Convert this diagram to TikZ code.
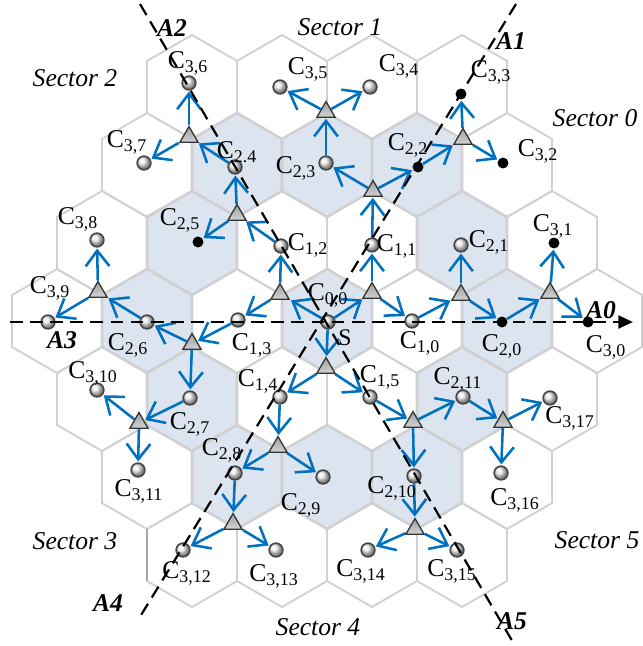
\documentclass[tikz,border=0pt]{standalone}
\usepackage{fontspec}
\setmainfont{Liberation Serif}
\usetikzlibrary{shapes.geometric, arrows.meta}
\definecolor{gridgray}{RGB}{208,208,208}
\definecolor{cellblue}{RGB}{220,228,240}
\definecolor{flowblue}{RGB}{0,112,192}
\tikzset{
pics/hexcell/.style={code={
       \path[pic actions] (45,-26) -- (0,-52) -- (-45,-26) -- (-45,26) -- (0,52) -- (45,26) -- cycle;
       }},
cellwhite/.style={draw=gridgray, line width=1pt},
cellshade/.style={draw=gridgray, fill=cellblue, line width=1.4pt},
cellball/.style={
       circle,
       inner sep=0pt,
       minimum size=7.5pt,
       shading=ball,
       ball color=gray!15,
       draw=gray!55!black,
       line width=0.9pt,
       },
cellhit/.style={circle, inner sep=0pt, minimum size=6pt, fill=black},
relay/.style={
       regular polygon,
       regular polygon sides=3,
       inner sep=0pt,
       minimum size=11.5pt,
       draw=gray!40!black,
       line width=0.7pt,
       top color=gray!75,
       bottom color=gray!35,
       },
flow/.style={draw=flowblue, line width=1.4pt, -{Straight Barb[length=8.5pt, width=13pt]}, shorten >=0.5pt},
clabel/.style={inner sep=0pt, font=\fontsize{14}{16}\selectfont},
sector/.style={inner sep=0pt, font=\fontsize{14}{16}\selectfont\itshape},
axislabel/.style={inner sep=0pt, font=\fontsize{14}{16}\selectfont\bfseries\itshape},
axisline/.style={black, line width=1.2pt, dash pattern=on 7pt off 4pt},
}

\begin{document}
\begin{tikzpicture}[x=0.5471pt, y=-0.5471pt]
      \useasboundingbox (0,0) rectangle (642,646);

            % Draw hexagonal cells (rings 0 and 2 shaded)
            \foreach \row in {-3,...,3} {
                \pgfmathtruncatemacro{\qlo}{max(-3,-3-\row)}
                \pgfmathtruncatemacro{\qhi}{min(3,3-\row)}
                \foreach \col in {\qlo,...,\qhi} {
                    \pgfmathtruncatemacro{\ring}{max(abs(\col),abs(\row),abs(\col+\row))}
                    \ifodd\ring
                        \pic[cellwhite] at ({327+90*(\col+\row/2)},{321+78*\row}) {hexcell};
                    \else
                        \pic[cellshade] at ({327+90*(\col+\row/2)},{321+78*\row}) {hexcell};
                    \fi
                }
            }
            \draw[gray!70, line width=1pt] (147,529) -- (147,581);

            % Draw cells
            \foreach \n/\x/\y in {
                00/328/322, 10/412/321, 11/372/245, 12/281/246, 13/238/320, 14/280/397, 15/370/397,
                21/461/245, 23/326/163, 24/235/167, 26/147/322, 27/190/398, 28/235/473, 29/323/477,
                210/414/476, 211/463/397, 34/370/87, 35/280/87, 36/189/83, 37/144/163, 38/97/240,
                39/48/322, 310/97/390, 311/138/470, 312/183/550, 313/276/550, 314/368/550,
                315/457/550, 316/501/473, 317/550/398} {
                \node[cellball] (c\n) at (\x,\y) {};
            }
            \foreach \n/\x/\y in {20/502/322, 22/418/167, 25/198/242, 30/588/322, 31/554/243, 32/503/163, 33/461/94} {
                \node[cellhit] (c\n) at (\x,\y) {};
            }

            % Draw relays
            \foreach \n/\x/\y in {
                1/372/293, 2/280/294, 3/326/368, 4/461/295, 5/550/293, 6/373/191,
                7/463/139, 8/326/112, 9/237/215, 10/189/137, 11/98/292, 12/192/344,
                13/139/423, 14/278/447, 15/233/524, 16/413/422, 17/503/422, 18/415/529} {
                \node[relay] (r\n) at (\x,\y) {};
            }

            % Draw forwarding arrows
            \foreach \a/\b in {
                c00/r1, c00/r2, c00/r3, r1/c11, r1/c10, r2/c12, r2/c13, r3/c14, r3/c15,
                c10/r4, r4/c21, r4/c20, c20/r5, r5/c31, r5/c30,
                c11/r6, r6/c22, r6/c23, c22/r7, r7/c33, r7/c32, c23/r8, r8/c34, r8/c35,
                c12/r9, r9/c24, r9/c25, c24/r10, r10/c36, r10/c37,
                c26/r11, r11/c38, r11/c39, c13/r12, r12/c26, r12/c27, c27/r13, r13/c310, r13/c311,
                c14/r14, r14/c28, r14/c29, c28/r15, r15/c312, r15/c313,
                c15/r16, r16/c211, r16/c210, c211/r17, r17/c317, r17/c316, c210/r18, r18/c314, r18/c315} {
                \draw[flow] (\a) -- (\b);
            }

            % Cell labels
            \foreach \n/\x/\y/\lab in {
                00/328/295/{0,0}, 10/420/343/{1,0}, 11/397/246/{1,1}, 12/308/245/{1,2},
                13/252/345/{1,3}, 14/258/381/{1,4}, 15/380/377/{1,5},
                20/502/346/{2,0}, 21/489/242/{2,1}, 22/408/145/{2,2}, 23/296/168/{2,3},
                24/237/152/{2.4}, 25/180/220/{2,5}, 26/128/345/{2,6}, 27/190/424/{2,7},
                28/222/450/{2,8}, 29/301/505/{2,9}, 210/392/488/{2,10}, 211/458/379/{2,11},
                30/606/347/{3,0}, 31/553/226/{3,1}, 32/538/151/{3,2}, 33/491/72/{3,3},
                34/399/66/{3,4}, 35/308/69/{3,5}, 36/188/63/{3,6}, 37/127/142/{3,7},
                38/78/219/{3,8}, 39/50/288/{3,9}, 310/93/373/{3,10}, 311/139/491/{3,11},
                312/187/573/{3,12}, 313/274/576/{3,13}, 314/361/571/{3,14},
                315/452/571/{3,15}, 316/515/500/{3,16}, 317/570/418/{3,17}} {
                \node[clabel] (l\n) at (\x,\y) {C\textsubscript{\lab}};
            }
            \node[clabel, font=\fontsize{13}{15}\selectfont] (src) at (345,338) {S};

            % Sector names
            \foreach \n/\x/\y in {0/595/118, 1/340/27, 2/75/78, 3/75/541, 4/318/627, 5/597/540} {
                \node[sector] (s\n) at (\x,\y) {Sector \n};
            }

            % Axes
            \coordinate (e0) at (633,322);
            \coordinate (e3) at (10,322);
            \coordinate (e1) at (516,4);
            \coordinate (e4) at (138,620);
            \coordinate (e2) at (140,4);
            \coordinate (e5) at (514,644);
            \draw[axisline, line width=1.5pt, -{Triangle[length=8pt, width=7pt]}] (e3) -- (e0);
            \draw[axisline] (e1) -- (e4);
            \draw[axisline] (e2) -- (e5);
            \foreach \n/\x/\y in {0/601/310, 1/511/41, 2/172/28, 3/62/340, 4/108/603, 5/512/621} {
                \node[axislabel] (ax\n) at (\x,\y) {A\n};
            }
    \end{tikzpicture}
\end{document}
